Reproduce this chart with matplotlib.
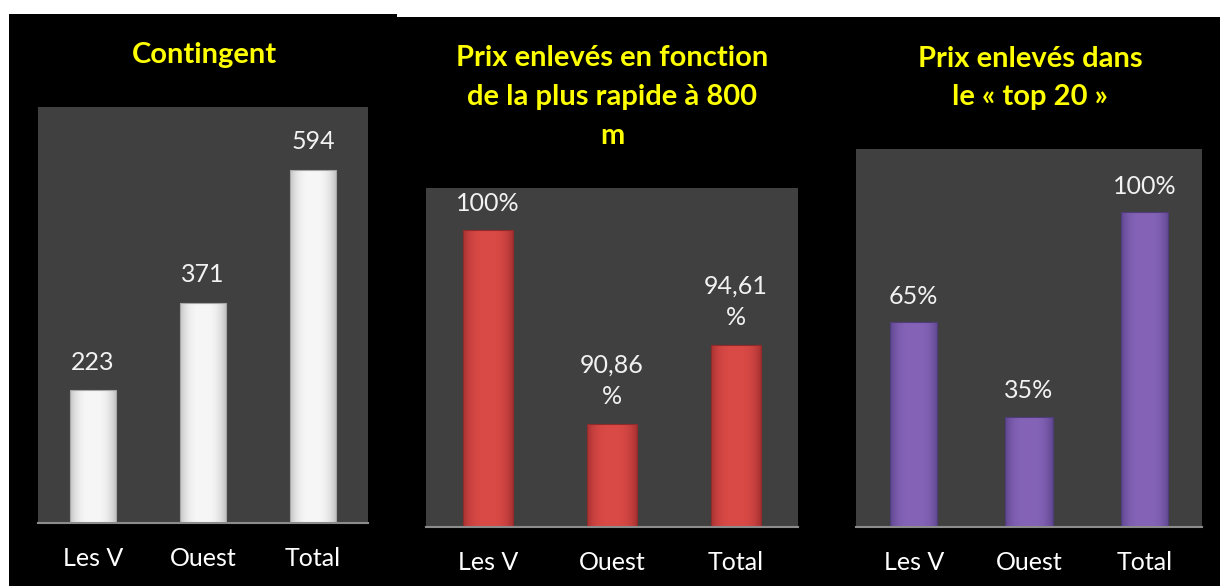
import numpy as np
import matplotlib
matplotlib.use("Agg")
import matplotlib.pyplot as plt
from matplotlib.patches import Rectangle
from matplotlib.colors import to_rgb

# données
categories = ["Les V", "Ouest", "Total"]
contingent = [223, 371, 594]
contingent_labels = ["223", "371", "594"]
prix_800 = [100, 90.86, 94.61]
prix_800_labels = ["100%", "90,86\n%", "94,61\n%"]
prix_top20 = [65, 35, 100]
prix_top20_labels = ["65%", "35%", "100%"]

titles = ["Contingent",
          "Prix enlevés en fonction\nde la plus rapide à 800\nm",
          "Prix enlevés dans\nle « top 20 »"]

W, H = 1220, 586
plt.rcParams['font.family'] = ['Lato', 'DejaVu Sans']

fig = plt.figure(figsize=(W / 100, H / 100), dpi=100)
fig.patch.set_facecolor('white')


def px_rect(x0, y0, x1, y1):
    # pixel coords (origine en haut) -> coords figure
    return [x0 / W, 1 - y1 / H, (x1 - x0) / W, (y1 - y0) / H]


# fonds noirs
for (x0, y0, x1, y1) in [(9, 14, 397, H), (397, 17, W, H)]:
    l, b, w, h = px_rect(x0, y0, x1, y1)
    fig.patches.append(Rectangle((l, b), w, h, transform=fig.transFigure,
                                 facecolor='black', edgecolor='none', zorder=-5))


def shaded_bars(ax, values, center, edge, bottom=0, width=0.41):
    bars = ax.bar(range(len(values)), np.array(values) - bottom, bottom=bottom,
                  width=width, color=center, edgecolor='none', zorder=2)
    c = np.array(to_rgb(center))
    e = np.array(to_rgb(edge))
    t = np.linspace(0, 1, 64)
    k = np.abs(2 * t - 1) ** 3
    grad = c[None, :] * (1 - k[:, None]) + e[None, :] * k[:, None]
    for bar in bars:
        x, y = bar.get_x(), bar.get_y()
        w, h = bar.get_width(), bar.get_height()
        im = ax.imshow(grad[None, :, :], extent=[x, x + w, y, y + h],
                       aspect='auto', zorder=3, interpolation='bilinear')
        im.set_clip_path(bar)
        # petit contour plus sombre
        ax.add_patch(Rectangle((x, y), w, h, facecolor='none',
                               edgecolor=e * 0.85, linewidth=0.8, zorder=4))
    return bars


def style_axes(ax, ymin, ymax):
    ax.set_facecolor('#404040')
    ax.set_ylim(ymin, ymax)
    ax.set_xlim(-0.5, 2.5)
    ax.set_yticks([])
    ax.set_xticks(range(3))
    ax.set_xticklabels(categories, color='white', fontsize=18)
    ax.tick_params(axis='x', length=0, pad=17)
    for s in ['top', 'right', 'left']:
        ax.spines[s].set_visible(False)
    ax.spines['bottom'].set_color('#8c8c8c')
    ax.spines['bottom'].set_linewidth(1.5)
    ax.spines['bottom'].set_zorder(5)


def add_labels(ax, values, labels, offset):
    for i, (v, lab) in enumerate(zip(values, labels)):
        off = offset + (16 if '\n' in lab else 0)
        ax.annotate(lab, (i, v), xytext=(0, off), textcoords='offset pixels',
                    ha='center', va='center', color='#f2f2f2', fontsize=18,
                    linespacing=1.45)


# panneau 1
ax1 = fig.add_axes(px_rect(38, 107, 368, 523))
style_axes(ax1, 0, 700)
shaded_bars(ax1, contingent, '#f7f7f7', '#c4c4c4')
add_labels(ax1, contingent, contingent_labels, 28)

# panneau 2
ax2 = fig.add_axes(px_rect(426, 188, 798, 527))
style_axes(ax2, 86, 102)
shaded_bars(ax2, prix_800, '#da4a46', '#a83232', bottom=86, width=0.40)
add_labels(ax2, prix_800, prix_800_labels, 27)

# panneau 3
ax3 = fig.add_axes(px_rect(856, 149, 1202, 527))
style_axes(ax3, 0, 120)
shaded_bars(ax3, prix_top20, '#8564b8', '#5f4690', width=0.41)
add_labels(ax3, prix_top20, prix_top20_labels, 26)

# titres
title_pos = [(204, 55), (612, 97), (1030, 78)]
for (x, y), t in zip(title_pos, titles):
    fig.text(x / W, 1 - y / H, t, ha='center', va='center', color='#ffff00',
             fontsize=21, fontweight='bold', linespacing=1.6)

fig.savefig('out.png', dpi=100, facecolor=fig.get_facecolor())
